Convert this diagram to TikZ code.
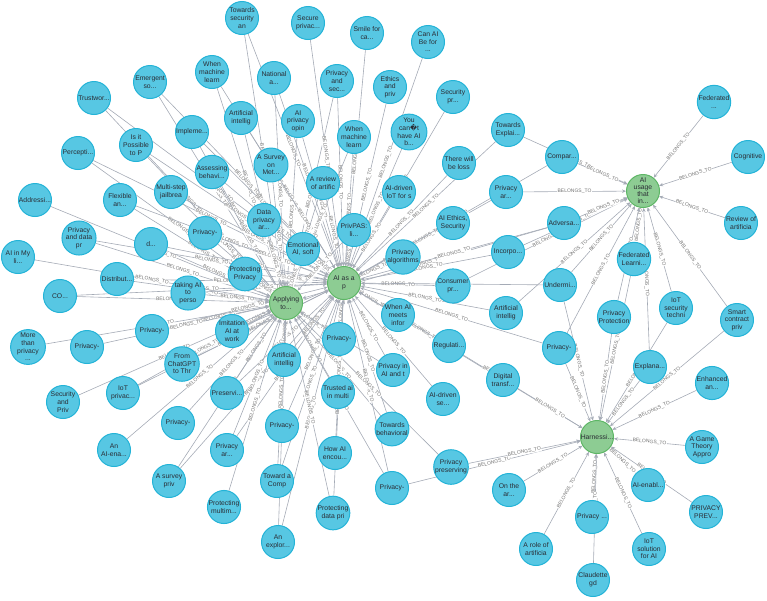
\documentclass[tikz,border=0pt]{standalone}
\usepackage{fontspec}
\setmainfont{Liberation Sans}
\newfontfamily\dejavu{DejaVu Sans}
\usetikzlibrary{arrows.meta,backgrounds}
\definecolor{nblue}{HTML}{57C7E3}
\definecolor{nbluee}{HTML}{23B3D7}
\definecolor{ngreen}{HTML}{8DCC93}
\definecolor{ngreene}{HTML}{5DB665}
\definecolor{edgec}{HTML}{A5ABB6}
\definecolor{txt}{HTML}{2A2C34}
\begin{document}
\begin{tikzpicture}[x=1pt,y=-1pt,
 paper/.style={circle,draw=nbluee,fill=nblue,line width=1pt,minimum size=33pt,inner sep=0pt,align=center,font=\fontsize{6.8}{7.6}\selectfont,text=txt},
 hub/.style={paper,draw=ngreene,fill=ngreen},
 rel/.style={draw=edgec,line width=0.6pt,-{Stealth[length=4pt,width=3.5pt]}},
 rlab/.style={font=\fontsize{5}{5}\selectfont,text=black!55,fill=white,inner sep=0.4pt,sloped,midway}]
\useasboundingbox (0,0) rectangle (767,600);
% hubs
\node[hub] (A) at (286,303) {Applying\\to...};
\node[hub] (P) at (344,283) {AI as a\\p};
\node[hub,font=\fontsize{6.8}{7}\selectfont] (U) at (643,191) {AI\\usage\\that\\in...};
\node[hub] (H) at (597,437) {Harnessi...};
% papers
\node[paper] (b1) at (242,18) {Towards\\security\\an};
\node[paper] (b2) at (212,72) {When\\machine\\learn};
\node[paper] (b3) at (150,82) {Emergent\\so...};
\node[paper] (b4) at (94,98) {Trustwor...};
\node[paper] (b5) at (241,118) {Artificial\\intellig};
\node[paper] (b6) at (192,132) {Impleme...};
\node[paper] (b7) at (136,145) {Is it\\Possible\\to P};
\node[paper] (b8) at (78,153) {Percepti...};
\node[paper] (b9) at (212,172) {Assessing\\behavi...};
\node[paper] (b10) at (171,192) {Multi-step\\jailbrea};
\node[paper] (b11) at (120,200) {Flexible\\an...};
\node[paper] (b12) at (35,200) {Addressi...};
\node[paper] (b13) at (308,23) {Secure\\privac...};
\node[paper] (b14) at (367,33) {Smile for\\ca...};
\node[paper] (b15) at (428,42) {Can AI\\Be for\\...};
\node[paper] (b16) at (274,78) {National\\a...};
\node[paper] (b17) at (337,81) {Privacy\\and\\sec...};
\node[paper] (b18) at (390,87) {Ethics\\and\\priv};
\node[paper] (b19) at (453,97) {Security\\pr...};
\node[paper] (b20) at (298,121) {AI\\privacy\\opin};
\node[paper] (b21) at (354,137) {When\\machine\\learn};
\node[paper] (b22) at (409,132) {You\\can{\dejavu �}t\\have AI\\b...};
\node[paper] (b23) at (508,130) {Towards\\Explai...};
\node[paper] (b24) at (271,165) {A Survey\\on\\Met...};
\node[paper] (b25) at (323,183) {A review\\of artific};
\node[paper] (b26) at (459,163) {There will\\be loss};
\node[paper] (b27) at (399,192) {AI-driven\\IoT for s};
\node[paper] (b28) at (506,192) {Privacy\\ar...};
\node[paper] (b29) at (714,102) {Federated\\...};
\node[paper] (b30) at (748,157) {Cognitive};
\node[paper] (b31) at (562,157) {Compar...};
\node[paper] (b32) at (79,238) {Privacy\\and data\\pr};
\node[paper] (b33) at (151,244) {d...};
\node[paper] (b34) at (205,233) {Privacy-};
\node[paper] (b35) at (18,257) {AI in My\\li...};
\node[paper] (b36) at (117,279) {Distribut...};
\node[paper] (b37) at (60,296) {CO...};
\node[paper] (b38) at (188,293) {taking AI\\to\\perso};
\node[paper] (b39) at (245,274) {Protecting\\Privacy};
\node[paper] (b40) at (152,331) {Privacy-};
\node[paper] (b41) at (87,347) {Privacy-};
\node[paper] (b42) at (28,347) {More\\than\\privacy\\...};
\node[paper] (b43) at (232,331) {Imitation\\AI at\\work};
\node[paper] (b44) at (182,364) {From\\ChatGPT\\to Thr};
\node[paper] (b45) at (123,393) {IoT\\privac...};
\node[paper] (b46) at (63,402) {Security\\and\\Priv};
\node[paper] (b47) at (227,393) {Preservi...};
\node[paper] (b48) at (264,220) {Data\\privacy\\ar...};
\node[paper] (b49) at (354,230) {PrivPAS:\\li...};
\node[paper] (b50) at (303,249) {Emotional\\AI, soft};
\node[paper] (b51) at (453,223) {AI Ethics,\\Security};
\node[paper] (b52) at (403,257) {Privacy\\algorithms};
\node[paper] (b53) at (508,252) {Incorpo...};
\node[paper] (b54) at (453,286) {Consumer\\pr...};
\node[paper] (b55) at (506,313) {Artificial\\intellig};
\node[paper] (b56) at (398,315) {When AI\\meets\\infor};
\node[paper] (b57) at (339,339) {Privacy-};
\node[paper] (b58) at (284,360) {Artificial\\intellig};
\node[paper] (b59) at (449,346) {Regulati...};
\node[paper] (b60) at (393,370) {Privacy in\\AI and t};
\node[paper] (b61) at (503,380) {Digital\\transf...};
\node[paper] (b62) at (338,392) {Trusted ai\\in multi};
\node[paper] (b63) at (443,399) {AI-driven\\se...};
\node[paper] (b64) at (564,223) {Adversa...};
\node[paper] (b65) at (741,223) {Review of\\artificia};
\node[paper] (b66) at (634,259) {Federated\\Learni...};
\node[paper] (b67) at (560,285) {Undermi...};
\node[paper] (b68) at (676,308) {IoT\\security\\techni};
\node[paper] (b69) at (614,317) {Privacy\\Protection};
\node[paper] (b70) at (737,320) {Smart\\contract\\priv};
\node[paper] (b71) at (559,348) {Privacy-};
\node[paper] (b72) at (650,367) {Explana...};
\node[paper] (b73) at (712,383) {Enhanced\\an...};
\node[paper] (b74) at (114,450) {An\\AI-ena...};
\node[paper] (b75) at (178,423) {Privacy-};
\node[paper] (b76) at (169,481) {A survey\\priv};
\node[paper] (b77) at (227,450) {Privacy\\ar...};
\node[paper] (b78) at (224,507) {Protecting\\multim...};
\node[paper] (b79) at (282,426) {Privacy-};
\node[paper] (b80) at (277,481) {Toward a\\Comp};
\node[paper] (b81) at (278,542) {An\\explor...};
\node[paper] (b82) at (335,453) {How AI\\encou...};
\node[paper] (b83) at (333,513) {Protecting\\data pri};
\node[paper] (b84) at (392,429) {Towards\\behavioral};
\node[paper] (b85) at (392,488) {Privacy-};
\node[paper] (b86) at (451,467) {Privacy\\preserving};
\node[paper] (b87) at (509,490) {On the\\ar...};
\node[paper] (b88) at (702,447) {A Game\\Theory\\Appro};
\node[paper] (b89) at (648,485) {AI-enabl...};
\node[paper] (b90) at (706,512) {PRIVACY\\PREV...};
\node[paper] (b91) at (592,517) {Privacy ...};
\node[paper] (b92) at (536,549) {A role of\\artificia};
\node[paper] (b93) at (649,549) {IoT\\solution\\for AI};
\node[paper] (b94) at (593,580) {Claudette\\gd};
\begin{scope}[on background layer]
\foreach \s in {b1,b2,b3,b4,b5,b6,b7,b8,b9,b10,b11,b16,b17,b20,b21,b24,b25,b32,b33,b34,b36,b37,b38,b39,b40,b43,b44,b45,b47,b48,b49,b50,b57,b58,b60,b62,b64,b76,b77,b79,b80,b81,b83,b84,b85}
 {\draw[rel] (\s) -- node[rlab]{BELONGS\_TO} (A);
  \draw[rel] (\s) -- node[rlab]{BELONGS\_TO} (P);}
\foreach \s in {b12,b35,b41,b42,b46,b74,b75,b78,b86}
 {\draw[rel] (\s) -- node[rlab]{BELONGS\_TO} (A);}
\foreach \s in {b13,b14,b15,b18,b19,b22,b26,b27,b51,b52,b56,b59,b63,b82,b23,b28,b31,b53,b54,b55,b61,b67,b71}
 {\draw[rel] (\s) -- node[rlab]{BELONGS\_TO} (P);}
\foreach \s in {b23,b28,b29,b30,b31,b53,b54,b55,b64,b65,b66,b67,b68,b69,b70,b71,b72}
 {\draw[rel] (\s) -- node[rlab]{BELONGS\_TO} (U);}
\foreach \s in {b56,b61,b66,b67,b68,b69,b70,b71,b72,b73,b85,b86,b87,b88,b89,b90,b91,b92,b93,b94}
 {\draw[rel] (\s) -- node[rlab]{BELONGS\_TO} (H);}
\end{scope}
\end{tikzpicture}
\end{document}
